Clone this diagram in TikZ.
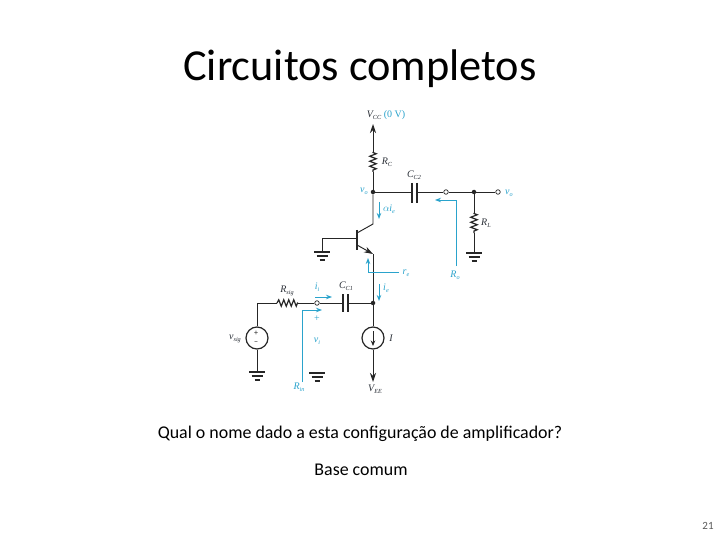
\documentclass[tikz,border=0pt]{standalone}
\usepackage{fontspec}
\setmainfont{Carlito}
\newfontfamily\cirfont{Liberation Serif}
\usetikzlibrary{arrows.meta,decorations.pathmorphing}
\definecolor{cblue}{HTML}{2AA3CC}
\definecolor{cwire}{HTML}{262626}
\definecolor{clab}{HTML}{2B3038}
\newcommand{\sbs}[1]{\raisebox{-1.6pt}{\fontsize{6.2}{7}\selectfont #1}}
\tikzset{
  wire/.style={draw=cwire,line width=0.95pt},
  plate/.style={draw=cwire,line width=1.5pt},
  res/.style={wire,line width=1.2pt,decorate,decoration={zigzag,segment length=5pt,amplitude=3.2pt,pre length=0.5pt,post length=0.5pt}},
  blueline/.style={draw=cblue,line width=0.95pt},
  bluearrow/.style={blueline,-{Stealth[length=6pt,width=4.5pt]}},
  blackarrow/.style={wire,-{Stealth[length=9pt,width=6pt]}},
  dotn/.style={circle,fill=cwire,draw=none,inner sep=0pt,minimum size=4.5pt},
  term/.style={circle,draw=cwire,fill=white,line width=0.7pt,inner sep=0pt,minimum size=4.5pt},
  src/.style={circle,draw=cwire,line width=1.2pt,fill=white,inner sep=0pt,minimum size=22pt},
  lab/.style={text=clab,inner sep=0pt,font=\cirfont\itshape\fontsize{10}{11}\selectfont},
  blab/.style={text=cblue,inner sep=0pt,font=\cirfont\itshape\fontsize{10}{11}\selectfont},
  gnd/.pic={\draw[wire,line width=1.2pt] (-8,0)--(8,0) (-5.5,4)--(5.5,4) (-2.5,8)--(2.5,8);}
}
\begin{document}
\begin{tikzpicture}[x=1pt,y=-1pt]
\useasboundingbox[fill=white] (0,0) rectangle (720,540);
\node[font=\fontsize{44.3}{48}\selectfont,text=black] (title) at (360,69) {Circuitos completos};
\node[font=\fontsize{17.9}{20}\selectfont,text=black] (q) at (360,434) {Qual o nome dado a esta configuração de amplificador?};
\node[font=\fontsize{17.9}{20}\selectfont,text=black] (a) at (361,470) {Base comum};
\node[font=\fontsize{11}{13}\selectfont,text=black!65] (pg) at (708,526) {21};
% coordinates
\coordinate (vcc) at (373,124);
\coordinate (rct) at (373,152);
\coordinate (rcb) at (373,172);
\node[dotn] (vo) at (373,192) {};
\coordinate (c2l) at (412,192);
\coordinate (c2r) at (417,192);
\node[term] (t2) at (446,192) {};
\node[dotn] (d2) at (474,192) {};
\node[term] (t3) at (498,192) {};
\coordinate (rlt) at (474,213);
\coordinate (rlb) at (474,233);
\coordinate (g1) at (474,253);
\coordinate (cc) at (373,224);
\coordinate (bc) at (357,233);
\coordinate (be) at (357,245);
\coordinate (bb) at (357,238);
\coordinate (ee) at (373,254);
\coordinate (g2) at (322,252);
\coordinate (g2t) at (322,238);
\node[dotn] (d1) at (373,303) {};
\node[src] (si) at (373,338) {};
\coordinate (vee) at (373,382);
\node[src] (sv) at (257,338) {};
\coordinate (cor) at (257,303);
\coordinate (rst) at (277,303);
\coordinate (rsb) at (298,303);
\node[term] (t1) at (317,303) {};
\coordinate (c1l) at (343,303);
\coordinate (c1r) at (348,303);
\coordinate (g3) at (257,372);
\coordinate (g4) at (317,373);
% wires
\draw[blackarrow] (rct) -- (vcc);
\draw[res] (rct) -- (rcb);
\draw[wire] (rcb) -- (vo) -- (c2l);
\draw[wire] (c2r) -- (t2) -- (d2) -- (t3);
\draw[plate] (412,183) -- (412,203) (417,183) -- (417,203);
\draw[wire] (d2) -- (rlt);
\draw[res] (rlt) -- (rlb);
\draw[wire] (rlb) -- (g1);
\pic at (g1) {gnd};
\draw[wire] (vo) -- (cc) -- (bc);
\draw[plate] (357,230) -- (357,250);
\draw[wire] (g2) -- (g2t) -- (bb);
\pic at (g2) {gnd};
\draw[blackarrow] (be) -- (ee);
\draw[wire] (ee) -- (d1) -- (si);
\draw[wire] (d1) -- (c1r);
\draw[plate] (343,294) -- (343,312) (348,294) -- (348,312);
\draw[wire] (c1l) -- (t1) -- (rsb);
\draw[res] (rsb) -- (rst);
\draw[wire] (rst) -- (cor) -- (sv);
\draw[wire] (sv) -- (g3);
\pic at (g3) {gnd};
\pic at (g4) {gnd};
\draw[blackarrow] (si) -- (vee);
\draw[wire,-{Stealth[length=5.5pt,width=4.5pt]}] (373,331) -- (373,346);
\node[font=\fontsize{8}{8}\selectfont,text=cwire,inner sep=0pt] (plus) at (256,333) {+};
\node[font=\fontsize{8}{8}\selectfont,text=cwire,inner sep=0pt] (minus) at (256,343) {−};
% blue
\draw[bluearrow] (379,202) -- (379,219);
\draw[bluearrow] (379,284) -- (379,301);
\draw[bluearrow] (399,272) -- (368,272) -- (368,258);
\draw[bluearrow] (456,266) -- (456,200) -- (435,200);
\draw[bluearrow] (315,297) -- (332,297);
\draw[bluearrow] (302,382) -- (302,310) -- (322,310);
% labels
\node[lab] (lvcc) at (386,115) {V\sbs{CC} \textcolor{cblue}{\upshape (0 V)}};
\node[lab] (lrc) at (387,162) {R\sbs{C}};
\node[lab] (lc2) at (414,175) {C\sbs{C2}};
\node[blab] (lvo) at (364,191) {v\sbs{o}};
\node[blab] (lvo2) at (509,193.5) {v\sbs{o}};
\node[blab] (lai) at (389,209) {$\alpha$i\sbs{e}};
\node[lab] (lrl) at (486,223) {R\sbs{L}};
\node[blab] (lre) at (406,273) {r\sbs{e}};
\node[blab] (lro) at (455,275) {R\sbs{o}};
\node[blab] (lii) at (317,287) {i\sbs{i}};
\node[blab] (lie) at (386,288) {i\sbs{e}};
\node[lab] (lrs) at (287,291) {R\sbs{sig}};
\node[lab] (lc1) at (346,286) {C\sbs{C1}};
\node[text=cblue,inner sep=0pt,font=\cirfont\fontsize{10}{10}\selectfont] (lp) at (317,319) {+};
\node[blab] (lvi) at (317,341) {v\sbs{i}};
\node[lab] (lvs) at (235,339) {v\sbs{sig}};
\node[lab] (li) at (391,338) {I};
\node[blab] (lrin) at (299,387) {R\sbs{in}};
\node[lab] (lvee) at (375,389) {V\sbs{EE}};
\end{tikzpicture}
\end{document}
